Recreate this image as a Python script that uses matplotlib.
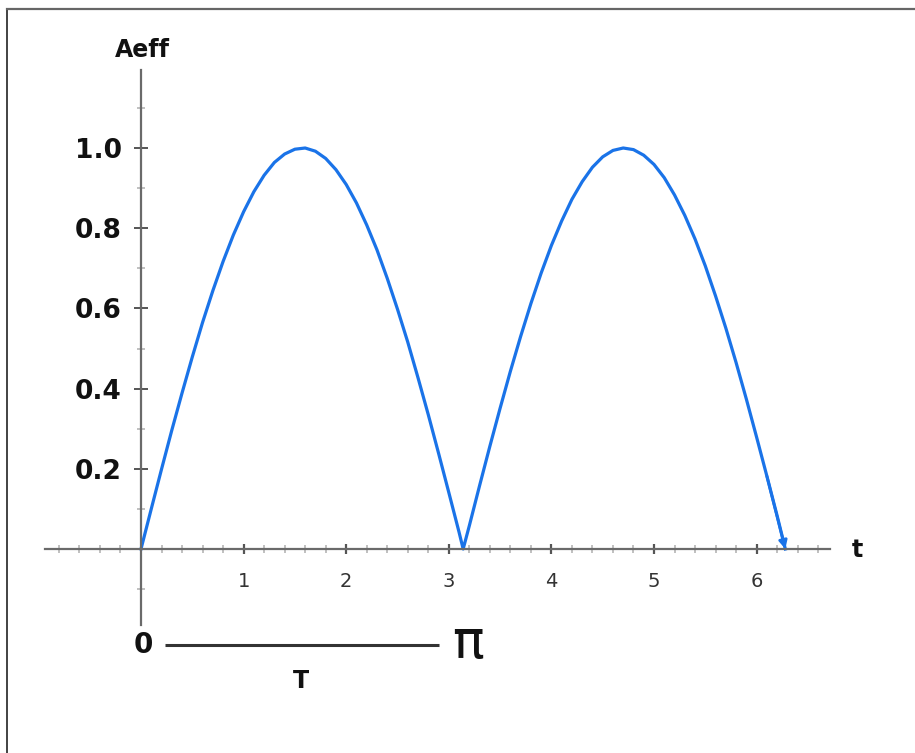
import matplotlib
matplotlib.use("Agg")
import matplotlib.pyplot as plt
from matplotlib.lines import Line2D
from matplotlib.ticker import FixedLocator

# values
t = [0.0, 0.1, 0.2, 0.3, 0.4, 0.5, 0.6, 0.7, 0.8, 0.9, 1.0, 1.1, 1.2, 1.3, 1.4,
     1.5, 1.6, 1.7, 1.8, 1.9, 2.0, 2.1, 2.2, 2.3, 2.4, 2.5, 2.6, 2.7, 2.8, 2.9,
     3.0, 3.1, 3.14, 3.2, 3.3, 3.4, 3.5, 3.6, 3.7, 3.8, 3.9, 4.0, 4.1, 4.2, 4.3,
     4.4, 4.5, 4.6, 4.7, 4.8, 4.9, 5.0, 5.1, 5.2, 5.3, 5.4, 5.5, 5.6, 5.7, 5.8,
     5.9, 6.0, 6.1, 6.2, 6.28]
aeff = [0.000, 0.100, 0.199, 0.296, 0.389, 0.479, 0.565, 0.644, 0.717, 0.783,
        0.841, 0.891, 0.932, 0.964, 0.985, 0.997, 1.000, 0.992, 0.974, 0.946,
        0.909, 0.863, 0.808, 0.746, 0.675, 0.598, 0.516, 0.427, 0.335, 0.239,
        0.141, 0.042, 0.000, 0.058, 0.158, 0.256, 0.351, 0.443, 0.530, 0.612,
        0.688, 0.757, 0.818, 0.872, 0.916, 0.952, 0.978, 0.994, 1.000, 0.996,
        0.982, 0.959, 0.926, 0.883, 0.832, 0.773, 0.706, 0.631, 0.551, 0.465,
        0.374, 0.279, 0.182, 0.083, 0.000]

x_major = [1, 2, 3, 4, 5, 6]
x_minor = [-0.8, -0.6, -0.4, -0.2, 0.2, 0.4, 0.6, 0.8, 1.2, 1.4, 1.6, 1.8,
           2.2, 2.4, 2.6, 2.8, 3.2, 3.4, 3.6, 3.8, 4.2, 4.4, 4.6, 4.8,
           5.2, 5.4, 5.6, 5.8, 6.2, 6.4, 6.6]
y_major = [0.2, 0.4, 0.6, 0.8, 1.0]
y_minor = [-0.1, 0.1, 0.3, 0.5, 0.7, 0.9, 1.1]
y_labels = ["0.2", "0.4", "0.6", "0.8", "1.0"]

blue = "#1a73e8"
axis_col = "#6a6a6a"

fig = plt.figure(figsize=(9.15, 7.53), dpi=100)
ax = fig.add_axes([0, 0, 1, 1])
ax.set_xlim(-1.3743, 7.5439)
ax.set_ylim(-0.5087, 1.3691)

for s in ["top", "right"]:
    ax.spines[s].set_visible(False)
ax.spines["left"].set_position(("data", 0))
ax.spines["bottom"].set_position(("data", 0))
ax.spines["left"].set_bounds(-0.19, 1.195)
ax.spines["bottom"].set_bounds(-0.936, 6.72)
for s in ["left", "bottom"]:
    ax.spines[s].set_color(axis_col)
    ax.spines[s].set_linewidth(1.6)

ax.xaxis.set_major_locator(FixedLocator(x_major))
ax.xaxis.set_minor_locator(FixedLocator(x_minor))
ax.yaxis.set_major_locator(FixedLocator(y_major))
ax.yaxis.set_minor_locator(FixedLocator(y_minor))
ax.set_xticklabels([str(v) for v in x_major])
ax.set_yticklabels(y_labels)

ax.tick_params(axis="x", which="major", direction="inout", length=7, width=1.6,
               color="#555555", pad=13, labelsize=14, labelcolor="#333333")
ax.tick_params(axis="y", which="major", direction="inout", length=10, width=1.4,
               color="#555555", pad=9, labelsize=19, labelcolor="#111111")
ax.tick_params(which="minor", direction="inout", length=6, width=1.2,
               color="#b5b5b5")
for lab in ax.get_yticklabels():
    lab.set_fontweight("bold")

ax.plot(t, aeff, color=blue, lw=2.3, solid_joinstyle="round")
ax.annotate("", xy=(t[-1], aeff[-1]), xytext=(t[-3], aeff[-3]),
            arrowprops=dict(arrowstyle="-|>", color=blue, lw=2.0,
                            mutation_scale=12, shrinkA=0, shrinkB=0))

ax.text(0.01, 1.244, "Aeff", ha="center", va="center", fontsize=17,
        fontweight="bold", color="#111111")
ax.text(6.98, -0.002, "t", ha="center", va="center", fontsize=17,
        fontweight="bold", color="#111111")

# period annotation under the axis
ax.text(0.02, -0.239, "0", ha="center", va="center", fontsize=20,
        fontweight="bold", color="#111111")
ax.plot([0.234, 2.904], [-0.2406, -0.2406], color="#333333", lw=2.2,
        solid_capstyle="butt")
ax.text(3.19, -0.235, "\u03c0", ha="center", va="center", fontsize=38,
        color="#111111")
ax.text(1.559, -0.329, "T", ha="center", va="center", fontsize=17,
        fontweight="bold", color="#111111")

# outer frame (left and top edges only)
fig.add_artist(Line2D([7 / 915, 7 / 915], [0, 1 - 9 / 753], color="#222222",
                      lw=1.2, transform=fig.transFigure))
fig.add_artist(Line2D([7 / 915, 1], [1 - 9 / 753, 1 - 9 / 753], color="#666666",
                      lw=1.6, transform=fig.transFigure))

fig.savefig("out.png", dpi=100)
